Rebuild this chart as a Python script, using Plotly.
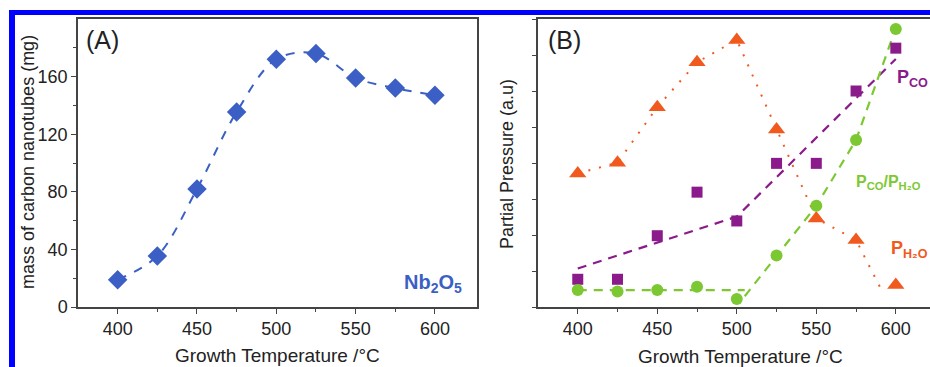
import plotly.graph_objects as go

# ---- data ----
temps = [400, 425, 450, 475, 500, 525, 550, 575, 600]
mass_cnt = [19, 35.5, 82, 135.5, 172, 176, 159, 152, 147]

p_h2o = [3.71, 4.01, 5.55, 6.80, 7.42, 4.93, 2.46, 1.86, 0.61]
p_co = [0.77, 0.77, 1.98, 3.19, 2.39, 3.99, 3.99, 6.00, 7.19]
ratio = [0.47, 0.43, 0.47, 0.56, 0.22, 1.43, 2.81, 4.64, 7.72]

# trend lines
pco_fit_x = [400, 500, 600]
pco_fit_y = [1.07, 2.51, 6.89]
ratio_flat_x = [400, 505]
ratio_flat_y = [0.47, 0.47]
ratio_rise_x = [505, 525, 550, 575, 598]
ratio_rise_y = [0.30, 1.43, 2.81, 4.64, 7.50]
h2o_fit_x = [400, 425, 450, 475, 500, 525, 550, 575, 591]
h2o_fit_y = [3.71, 4.01, 5.55, 6.80, 7.42, 4.93, 2.46, 1.86, 0.47]

W, H = 930, 367
def px(x):
    return x / W
def py(y):
    return 1 - y / H

BLUE = "#3b5fc4"
ORANGE = "#f05a1e"
PURPLE = "#8b1a8b"
GREEN = "#7cc832"
AX = "#444444"
TXT = "#222222"
FONT = "Liberation Sans, Arial, sans-serif"

fig = go.Figure()

# Panel A
fig.add_trace(go.Scatter(x=temps, y=mass_cnt, mode="lines", line=dict(color=BLUE, width=2, dash="dash", shape="spline"),
                         xaxis="x", yaxis="y", showlegend=False))
fig.add_trace(go.Scatter(x=temps, y=mass_cnt, mode="markers",
                         marker=dict(symbol="diamond", size=15, color=BLUE),
                         xaxis="x", yaxis="y", showlegend=False))

# Panel B lines
fig.add_trace(go.Scatter(x=h2o_fit_x, y=h2o_fit_y, mode="lines", line=dict(color=ORANGE, width=2, dash="2px,9px"),
                         xaxis="x2", yaxis="y2", showlegend=False))
fig.add_trace(go.Scatter(x=pco_fit_x, y=pco_fit_y, mode="lines", line=dict(color=PURPLE, width=2.2, dash="9px,7px"),
                         xaxis="x2", yaxis="y2", showlegend=False))
fig.add_trace(go.Scatter(x=ratio_flat_x, y=ratio_flat_y, mode="lines", line=dict(color=GREEN, width=2.2, dash="9px,7px"),
                         xaxis="x2", yaxis="y2", showlegend=False))
fig.add_trace(go.Scatter(x=ratio_rise_x, y=ratio_rise_y, mode="lines", line=dict(color=GREEN, width=2.2, dash="9px,7px"),
                         xaxis="x2", yaxis="y2", showlegend=False))
# Panel B markers
fig.add_trace(go.Scatter(x=temps, y=p_h2o, mode="markers",
                         marker=dict(symbol="triangle-up", size=15, color=ORANGE),
                         xaxis="x2", yaxis="y2", showlegend=False))
fig.add_trace(go.Scatter(x=temps, y=p_co, mode="markers",
                         marker=dict(symbol="square", size=11, color=PURPLE),
                         xaxis="x2", yaxis="y2", showlegend=False))
fig.add_trace(go.Scatter(x=temps, y=ratio, mode="markers",
                         marker=dict(symbol="circle", size=12, color=GREEN),
                         xaxis="x2", yaxis="y2", showlegend=False))

xcommon = dict(tickmode="array", tickvals=[400, 450, 500, 550, 600], ticks="outside", ticklen=5,
               tickcolor=AX, tickwidth=1, showline=True, linecolor=AX, linewidth=1.5, automargin=False,
               showgrid=False, zeroline=False, tickfont=dict(family=FONT, size=18, color=TXT),
               minor=dict(tickvals=[425, 475, 525, 575], ticks="outside", ticklen=3, tickcolor=AX))

fig.update_layout(
    width=W, height=H, autosize=False, margin=dict(l=0, r=0, t=0, b=0),
    paper_bgcolor="white", plot_bgcolor="white",
    xaxis=dict(domain=[px(78), px(477)], range=[375, 626.5], anchor="y", mirror=True, **xcommon),
    yaxis=dict(domain=[py(307), py(19)], range=[0, 200], anchor="x", mirror=True, automargin=False,
               tickmode="array", tickvals=[0, 40, 80, 120, 160], ticks="outside", ticklen=5,
               tickcolor=AX, showline=True, linecolor=AX, linewidth=1.5, showgrid=False, zeroline=False,
               tickfont=dict(family=FONT, size=18, color=TXT),
               minor=dict(tickvals=[20, 60, 100, 140, 180], ticks="outside", ticklen=3, tickcolor=AX)),
    xaxis2=dict(domain=[px(538), 1.0], range=[375, 621.5], anchor="y2", mirror=True, **xcommon),
    yaxis2=dict(domain=[py(307), py(19)], range=[0, 8], anchor="x2", mirror=False, automargin=False,
                tickmode="array", tickvals=[0, 1, 2, 3, 4, 5, 6, 7, 8], ticks="outside", ticklen=4,
                tickcolor=AX, showline=True, linecolor=AX, linewidth=1.5, showgrid=False, zeroline=False,
                showticklabels=False),
)

ann = []
def add_text(x, y, text, size=15, color=TXT, angle=0, xanchor="center"):
    ann.append(dict(x=px(x), y=py(y), xref="paper", yref="paper", text=text, showarrow=False,
                    font=dict(family=FONT, size=size, color=color), textangle=angle,
                    xanchor=xanchor, yanchor="middle"))

add_text(84, 40, "(A)", size=25, xanchor="left")
add_text(546, 40, "(B)", size=25, xanchor="left")
add_text(277, 355, "Growth Temperature /°C", size=19)
add_text(740, 356, "Growth Temperature /°C", size=19)
add_text(28, 162, "mass of carbon nanotubes (mg)", size=18, angle=-90)
add_text(507, 164, "Partial Pressure (a.u)", size=18, angle=-90)
add_text(464, 283, "<b>Nb<sub>2</sub>O<sub>5</sub></b>", size=20, color=BLUE, xanchor="right")
add_text(930, 78, "<b>P<sub>CO</sub></b>", size=18, color=PURPLE, xanchor="right")
add_text(923, 182, "<b>P<sub>CO</sub>/P<sub>H₂O</sub></b>", size=16, color=GREEN, xanchor="right")
add_text(930, 250, "<b>P<sub>H₂O</sub></b>", size=18, color=ORANGE, xanchor="right")
fig.update_layout(annotations=ann)

# blue frame
fig.add_shape(type="rect", xref="paper", yref="paper", x0=px(9), x1=1.0, y0=py(15), y1=py(10),
              fillcolor="#0000ff", line=dict(width=0), layer="above")
fig.add_shape(type="rect", xref="paper", yref="paper", x0=px(9), x1=px(15), y0=0, y1=py(10),
              fillcolor="#0000ff", line=dict(width=0), layer="above")

fig.write_html("out.html", config={"displayModeBar": False, "responsive": False},
               post_script="document.body.style.margin='0px';document.body.style.overflow='hidden';")
